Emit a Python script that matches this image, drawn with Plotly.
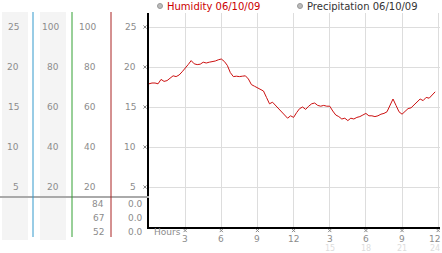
import plotly.graph_objects as go

# ---- data ----
hours = [i * 0.25 for i in range(96)]
humidity = [17.9, 18.0, 18.0, 17.9, 18.45, 18.2, 18.3, 18.55, 18.9, 18.8, 19.0, 19.4,
            19.8, 20.3, 20.8, 20.4, 20.3, 20.35, 20.6, 20.5, 20.6, 20.65, 20.75, 20.9,
            21.0, 20.7, 20.2, 19.3, 18.8, 18.85, 18.8, 18.85, 18.9, 18.5, 17.8, 17.6,
            17.4, 17.2, 17.0, 16.2, 15.4, 15.6, 15.2, 14.8, 14.5, 14.1, 13.6, 13.9,
            13.7, 14.3, 14.8, 15.0, 14.7, 15.1, 15.4, 15.5, 15.2, 15.1, 15.2, 15.1,
            15.1, 14.5, 14.0, 13.8, 13.5, 13.6, 13.3, 13.6, 13.5, 13.7, 13.8, 14.0,
            14.2, 13.9, 13.9, 13.8, 13.9, 14.1, 14.2, 14.4, 15.3, 16.0, 15.2, 14.4,
            14.1, 14.5, 14.8, 14.9, 15.3, 15.6, 16.0, 15.8, 16.2, 16.1, 16.5, 16.9]

x_tickvals = [3, 6, 9, 12, 15, 18, 21, 24]
x_ticktext = ["3", "6", "9", "12", "3", "6", "9", "12"]
x_faint = {15: "15", 18: "18", 21: "21", 24: "24"}

y_ticks = [25, 20, 15, 10, 5]
col1_labels = ["25", "20", "15", "10", "5"]
col2_labels = ["100", "80", "60", "40", "20"]
col3_labels = ["100", "80", "60", "40", "20"]
col4_labels = ["25", "20", "15", "10", "5"]
col3_extra = ["84", "67", "52"]
col4_extra = ["0.0", "0.0", "0.0"]

legend_items = [("Humidity 06/10/09", "#cc0000"), ("Precipitation 06/10/09", "#333333")]

# ---- geometry helpers (pixels -> paper) ----
W, H = 442, 253
ML, MR, MT, MB = 149, 2, 13, 26
PW, PH = W - ML - MR, H - MT - MB
XR = [0, 24.15]
YR = [0, PH / 8]


def pxx(px):
    return (px - ML) / PW


def pxy(py):
    return (H - MB - py) / PH


FONT = "DejaVu Sans"
GRAY = "#8c8c8c"
MARK = dict(color="#8a8a8a", width=1)

fig = go.Figure()
fig.add_trace(go.Scatter(x=hours, y=humidity, mode="lines",
                         line=dict(color="#cc1111", width=1), hoverinfo="skip"))

shapes = []
ann = []

# tick marks (small crosses)
d_y = 1.6 / 8  # 1.6 px in y units
for v in y_ticks:
    for s in (1, -1):
        shapes.append(dict(type="line", xref="paper", yref="y",
                           x0=pxx(143.4), x1=pxx(146.6), y0=v - s * d_y, y1=v + s * d_y,
                           line=MARK))
d_x = 1.6 * (XR[1] - XR[0]) / PW
for v in x_tickvals:
    for s in (1, -1):
        shapes.append(dict(type="line", xref="x", yref="paper",
                           x0=v - d_x, x1=v + d_x, y0=pxy(230.5 - s * 1.6), y1=pxy(230.5 + s * 1.6),
                           line=MARK))

# left panel backgrounds
shapes.append(dict(type="rect", xref="paper", yref="paper", x0=pxx(2), x1=pxx(28),
                   y0=pxy(240), y1=pxy(12), fillcolor="#f4f4f4", line=dict(width=0), layer="below"))
shapes.append(dict(type="rect", xref="paper", yref="paper", x0=pxx(40), x1=pxx(66),
                   y0=pxy(240), y1=pxy(12), fillcolor="#f4f4f4", line=dict(width=0), layer="below"))
# separator
shapes.append(dict(type="line", xref="paper", yref="paper", x0=pxx(0), x1=pxx(149),
                   y0=pxy(197), y1=pxy(197), line=dict(color="#aaaaaa", width=2)))
# coloured vertical lines
for xp, col in [(33, "#3399cc"), (72, "#33a033"), (111, "#aa2222")]:
    shapes.append(dict(type="line", xref="paper", yref="paper", x0=pxx(xp), x1=pxx(xp),
                       y0=pxy(237), y1=pxy(12), line=dict(color=col, width=1)))

# left panel labels
for i, v in enumerate(y_ticks):
    for lab, xp in [(col1_labels[i], 21), (col2_labels[i], 61), (col3_labels[i], 98), (col4_labels[i], 138)]:
        ann.append(dict(x=pxx(xp), y=v, xref="paper", yref="y", text=lab,
                        xanchor="right", yanchor="middle", showarrow=False,
                        font=dict(family=FONT, size=9, color=GRAY)))

for i, (a, b) in enumerate(zip(col3_extra, col4_extra)):
    py = 204 + 14 * i
    ann.append(dict(x=pxx(106), y=pxy(py), xref="paper", yref="paper", text=a,
                    xanchor="right", yanchor="middle", showarrow=False,
                    font=dict(family=FONT, size=9, color=GRAY)))
    ann.append(dict(x=pxx(145), y=pxy(py), xref="paper", yref="paper", text=b,
                    xanchor="right", yanchor="middle", showarrow=False,
                    font=dict(family=FONT, size=9, color=GRAY)))

# x axis labels
ann.append(dict(x=pxx(152), y=pxy(232), xref="paper", yref="paper", text="Hours",
                xanchor="left", yanchor="middle", showarrow=False,
                font=dict(family=FONT, size=9, color=GRAY)))
for v, t in zip(x_tickvals, x_ticktext):
    last = v == x_tickvals[-1]
    xa = "right" if last else "center"
    xv = pxx(442) if last else v
    xr = "paper" if last else "x"
    ann.append(dict(x=xv, y=pxy(238.5), xref=xr, yref="paper", text=t,
                    xanchor=xa, yanchor="middle", showarrow=False,
                    font=dict(family=FONT, size=9, color=GRAY)))
    if v in x_faint:
        ann.append(dict(x=xv, y=pxy(248.5), xref=xr, yref="paper", text=x_faint[v],
                        xanchor=xa, yanchor="middle", showarrow=False,
                        font=dict(family=FONT, size=8, color="#dddddd")))

# legend
for (txt, col), cx in zip(legend_items, [160, 300]):
    shapes.append(dict(type="circle", xref="paper", yref="paper",
                       x0=pxx(cx - 2.5), x1=pxx(cx + 2.5), y0=pxy(8.5), y1=pxy(3.5),
                       fillcolor="#bbbbbb", line=dict(color="#999999", width=1)))
    ann.append(dict(x=pxx(cx + 4.5), y=pxy(6), xref="paper", yref="paper", text=txt,
                    xanchor="left", yanchor="middle", showarrow=False,
                    font=dict(family=FONT, size=10, color=col)))

fig.update_layout(
    width=W, height=H,
    margin=dict(l=ML, r=MR, t=MT, b=MB, pad=0),
    paper_bgcolor="white", plot_bgcolor="white",
    showlegend=False,
    shapes=shapes, annotations=ann,
    xaxis=dict(range=XR, tickvals=x_tickvals, showticklabels=False,
               showgrid=True, gridcolor="#dddddd", gridwidth=1, zeroline=False,
               showline=True, linecolor="black", linewidth=2, ticks="", fixedrange=True),
    yaxis=dict(range=YR, tickvals=y_ticks, showticklabels=False,
               showgrid=True, gridcolor="#dddddd", gridwidth=1, zeroline=False,
               showline=True, linecolor="black", linewidth=2, ticks="", fixedrange=True),
)

fig.write_html("out.html")
